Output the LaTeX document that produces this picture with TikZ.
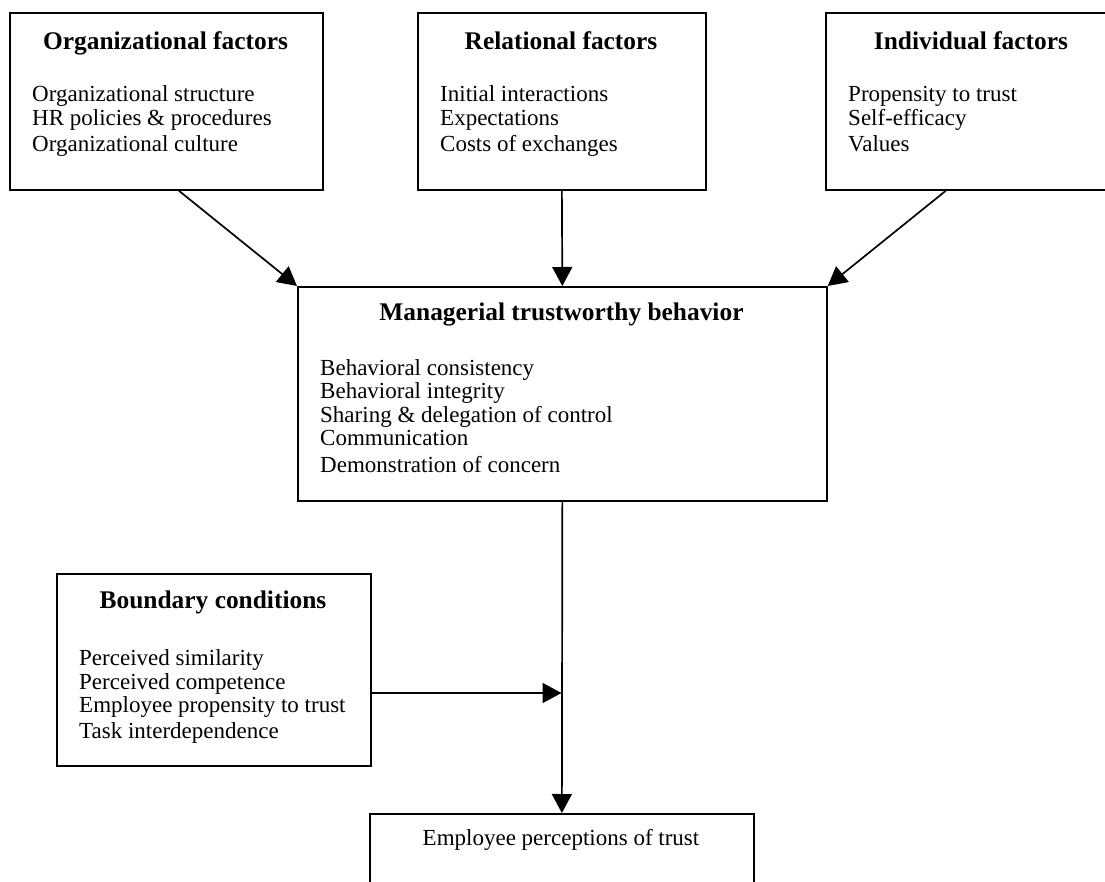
\documentclass[tikz,border=0pt]{standalone}
\usepackage{fontspec}
\setmainfont{Liberation Serif}
\usetikzlibrary{arrows.meta}
\tikzset{
  box/.style={draw=black, line width=1.7pt, rectangle, inner sep=0pt, anchor=north west},
  boxtitle/.style={font=\bfseries\fontsize{25.4}{28}\selectfont, anchor=base, inner sep=0pt},
  % multi-line lists are anchored at the baseline of their last line
  items/.style={font=\fontsize{23}{23.5}\selectfont, align=left, anchor=base west, inner sep=0pt},
  arr/.style={line width=1.7pt, -{Triangle[length=19pt,width=20pt]}}
}
\begin{document}
\begin{tikzpicture}[x=1pt,y=-1pt]
  \useasboundingbox (0,0) rectangle (1105,882);
  \clip (0,0) rectangle (1105,882);

  % antecedent boxes
  \node[box, minimum width=313pt, minimum height=177pt] (org) at (9,12) {};
  \node[boxtitle] (orgT) at (165.5,50) {Organizational factors};
  \node[items] (orgI) at (32,152) {Organizational structure\\HR policies \& procedures\\[3pt]Organizational culture};

  \node[box, minimum width=288pt, minimum height=177pt] (rel) at (417,12) {};
  \node[boxtitle] (relT) at (561,50) {Relational factors};
  \node[items] (relI) at (440,152) {Initial interactions\\Expectations\\[3pt]Costs of exchanges};

  \node[box, minimum width=292pt, minimum height=177pt] (ind) at (825,12) {};
  \node[boxtitle] (indT) at (971,50) {Individual factors};
  \node[items] (indI) at (848,152) {Propensity to trust\\Self-efficacy\\[3pt]Values};

  % central box
  \node[box, minimum width=529pt, minimum height=214pt] (man) at (297,286) {};
  \node[boxtitle] (manT) at (561.5,320) {Managerial trustworthy behavior};
  \node[items] (manI) at (320,472) {Behavioral consistency\\Behavioral integrity\\Sharing \& delegation of control\\Communication\\[3pt]Demonstration of concern};

  % moderator box
  \node[box, minimum width=314pt, minimum height=192pt] (bnd) at (56,573) {};
  \node[boxtitle] (bndT) at (213,608) {Boundary conditions};
  \node[items] (bndI) at (79,738) {Perceived similarity\\Perceived competence\\Employee propensity to trust\\[2pt]Task interdependence};

  % outcome box
  \node[box, minimum width=384pt, minimum height=120pt] (emp) at (369,813) {};
  \node[font=\fontsize{23}{23.5}\selectfont, anchor=base, inner sep=0pt] (empT) at (561,845) {Employee perceptions of trust};

  % connectors
  \coordinate (join) at (561.5,693);
  \draw[arr] ([xshift=12.5pt]org.south) -- (man.north west);
  \draw[arr] (rel.south) -- (man.north);
  \draw[arr] ([xshift=-26pt]ind.south) -- (man.north east);
  \draw[arr] (man.south) -- (emp.north);
  \draw[arr] (bnd.east |- join) -- (join);
\end{tikzpicture}
\end{document}
